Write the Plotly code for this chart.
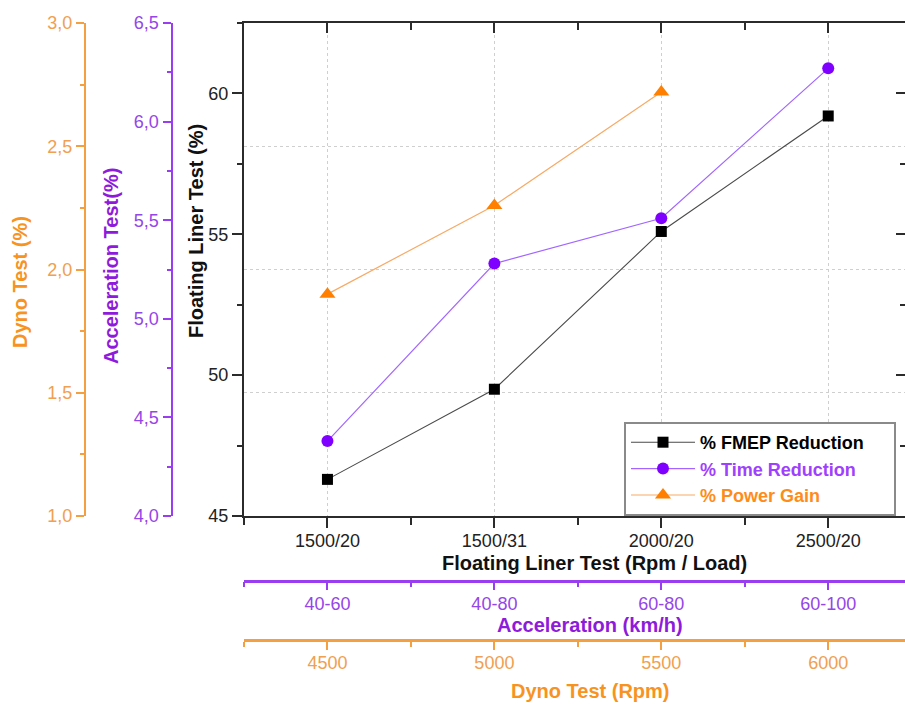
import plotly.graph_objects as go

# ---------------- data ----------------
fl_categories = ["1500/20", "1500/31", "2000/20", "2500/20"]      # Floating Liner Test (Rpm / Load)
acc_categories = ["40-60", "40-80", "60-80", "60-100"]            # Acceleration (km/h)
dyno_categories = ["4500", "5000", "5500", "6000"]                # Dyno Test (Rpm)

fmep_reduction = [46.3, 49.5, 55.1, 59.2]     # Floating Liner Test (%)
time_reduction = [4.38, 5.28, 5.51, 6.27]     # Acceleration Test (%)
power_gain = [1.90, 2.26, 2.72]               # Dyno Test (%)

fl_yticks = [45, 50, 55, 60]
fl_ytext = ["45", "50", "55", "60"]
acc_yticks = [4.0, 4.5, 5.0, 5.5, 6.0, 6.5]
acc_ytext = ["4,0", "4,5", "5,0", "5,5", "6,0", "6,5"]
dyno_yticks = [1.0, 1.5, 2.0, 2.5, 3.0]
dyno_ytext = ["1,0", "1,5", "2,0", "2,5", "3,0"]

# ---------------- style ----------------
W, H = 905, 704
FONT = "Liberation Sans, Arial, Helvetica, sans-serif"
BLACK = "#111111"
AX_BLACK = "#2b2b2b"
ORANGE = "#F7931E"
ORANGE_AX = "#F5A040"
ORANGE_TXT = "#F0A050"
PURPLE = "#8E1BDB"
PURPLE_AX = "#9A3CF0"
PURPLE_TXT = "#9446E8"
GRID = "#cfcfcf"

px_x = lambda p: p / W
px_y = lambda p: (H - p) / H

x_dom = [px_x(244), 1.0]
y_dom = [px_y(516), px_y(23)]
x_range = [-0.5, 3.46]
idx = list(range(len(fl_categories)))
minor_x = [i - 0.5 for i in range(len(fl_categories) + 1)]
PAD = "&nbsp;" * 5

fig = go.Figure()

fig.add_trace(go.Scatter(
    x=idx, y=fmep_reduction, xaxis="x", yaxis="y", mode="lines+markers",
    name="<b>% FMEP Reduction</b>" + PAD,
    line=dict(color="#4a4a4a", width=1.1),
    marker=dict(symbol="square", size=11, color="#000000"),
))
fig.add_trace(go.Scatter(
    x=idx, y=time_reduction, xaxis="x2", yaxis="y2", mode="lines+markers",
    name="<b><span style='color:#A040FF'>% Time Reduction</span></b>",
    line=dict(color="#A266FF", width=1.2),
    marker=dict(symbol="circle", size=12, color="#8000FF"),
))
fig.add_trace(go.Scatter(
    x=idx[:len(power_gain)], y=power_gain, xaxis="x3", yaxis="y3", mode="lines+markers",
    name="<b><span style='color:#FF8C1A'>% Power Gain</span></b>",
    line=dict(color="#F7AA66", width=1.2),
    marker=dict(symbol="triangle-up", size=14, color="#FF8000"),
))
# helper trace for the top / right frame axes
fig.add_trace(go.Scatter(x=[None], y=[None], xaxis="x4", yaxis="y4",
                         showlegend=False, hoverinfo="skip"))

tickfont_black = dict(family=FONT, size=18, color="#222222")
tickfont_purple = dict(family=FONT, size=18, color=PURPLE_TXT)
tickfont_orange = dict(family=FONT, size=18, color=ORANGE_TXT)

common_x = dict(domain=x_dom, range=x_range, tickmode="array", tickvals=idx,
                zeroline=False, fixedrange=True, automargin=False)

fig.update_layout(
    width=W, height=H,
    margin=dict(l=0, r=0, t=0, b=0, autoexpand=False),
    paper_bgcolor="white", plot_bgcolor="white",
    font=dict(family=FONT, size=18, color=BLACK),
    showlegend=True,
    legend=dict(
        x=px_x(624), y=px_y(422), xanchor="left", yanchor="top",
        bgcolor="white", bordercolor="#8a8a8a", borderwidth=2,
        font=dict(family=FONT, size=18, color="#000000"),
        itemwidth=64, tracegroupgap=0,
    ),
    xaxis=dict(
        **common_x, anchor="y", side="bottom", ticktext=fl_categories,
        showline=True, linecolor=AX_BLACK, linewidth=2,
        ticks="outside", ticklen=10, tickwidth=1.5, tickcolor=AX_BLACK,
        tickfont=tickfont_black, ticklabelstandoff=-3,
        showgrid=True, gridcolor=GRID, griddash="dot", gridwidth=1,
        minor=dict(tickmode="array", tickvals=minor_x, ticks="outside",
                   ticklen=7, tickwidth=1.5, tickcolor=AX_BLACK, showgrid=False),
    ),
    xaxis2=dict(
        **common_x, anchor="free", position=px_y(580.5), overlaying="x", side="bottom",
        ticktext=acc_categories,
        showline=True, linecolor=PURPLE_AX, linewidth=2.5,
        ticks="outside", ticklen=8, tickwidth=1.5, tickcolor=PURPLE_AX,
        tickfont=tickfont_purple, ticklabelstandoff=-2, showgrid=False,
        minor=dict(tickmode="array", tickvals=minor_x, ticks="outside",
                   ticklen=5, tickwidth=1.5, tickcolor=PURPLE_AX, showgrid=False),
    ),
    xaxis3=dict(
        **common_x, anchor="free", position=px_y(640), overlaying="x", side="bottom",
        ticktext=dyno_categories,
        showline=True, linecolor=ORANGE_AX, linewidth=2.5,
        ticks="outside", ticklen=8, tickwidth=1.5, tickcolor=ORANGE_AX,
        tickfont=tickfont_orange, ticklabelstandoff=-2, showgrid=False,
        minor=dict(tickmode="array", tickvals=minor_x, ticks="outside",
                   ticklen=5, tickwidth=1.5, tickcolor=ORANGE_AX, showgrid=False),
    ),
    xaxis4=dict(
        **common_x, anchor="y", overlaying="x", side="top", ticktext=["", "", "", ""],
        showticklabels=False,
        showline=True, linecolor=AX_BLACK, linewidth=2,
        ticks="inside", ticklen=10, tickwidth=1.5, tickcolor=AX_BLACK, showgrid=False,
        minor=dict(tickmode="array", tickvals=minor_x, ticks="inside",
                   ticklen=7, tickwidth=1.5, tickcolor=AX_BLACK, showgrid=False),
    ),
    yaxis=dict(
        domain=y_dom, range=[45, 62.5], anchor="x", side="left", automargin=False,
        tickmode="array", tickvals=fl_yticks, ticktext=fl_ytext,
        showline=True, linecolor=AX_BLACK, linewidth=2,
        ticks="outside", ticklen=10, tickwidth=1.5, tickcolor=AX_BLACK,
        tickfont=tickfont_black, showgrid=False, zeroline=False,
        minor=dict(dtick=2.5, tick0=45, ticks="outside", ticklen=5, tickwidth=1.5,
                   tickcolor=AX_BLACK, showgrid=False),
    ),
    yaxis2=dict(
        domain=y_dom, range=[4.0, 6.5], anchor="free", position=px_x(171.5),
        overlaying="y", side="left", automargin=False,
        tickmode="array", tickvals=acc_yticks, ticktext=acc_ytext,
        showline=True, linecolor=PURPLE_AX, linewidth=2,
        ticks="outside", ticklen=8, tickwidth=1.5, tickcolor=PURPLE_AX,
        tickfont=tickfont_purple, showgrid=False, zeroline=False,
        minor=dict(dtick=0.25, tick0=4.0, ticks="outside", ticklen=4, tickwidth=1.5,
                   tickcolor=PURPLE_AX, showgrid=False),
    ),
    yaxis3=dict(
        domain=y_dom, range=[1.0, 3.0], anchor="free", position=px_x(85),
        overlaying="y", side="left", automargin=False,
        tickmode="array", tickvals=dyno_yticks, ticktext=dyno_ytext,
        showline=True, linecolor=ORANGE_AX, linewidth=2,
        ticks="outside", ticklen=8, tickwidth=1.5, tickcolor=ORANGE_AX,
        tickfont=tickfont_orange, zeroline=False,
        showgrid=True, gridcolor=GRID, griddash="dot", gridwidth=1,
        minor=dict(dtick=0.25, tick0=1.0, ticks="outside", ticklen=4, tickwidth=1.5,
                   tickcolor=ORANGE_AX, showgrid=False),
    ),
    yaxis4=dict(
        domain=y_dom, range=[45, 62.5], anchor="x", overlaying="y", side="right",
        automargin=False,
        tickmode="array", tickvals=fl_yticks, ticktext=fl_ytext, showticklabels=False,
        showline=False, ticks="inside", ticklen=9, tickwidth=1.5, tickcolor=AX_BLACK,
        showgrid=False, zeroline=False,
        minor=dict(dtick=2.5, tick0=45, ticks="inside", ticklen=5, tickwidth=1.5,
                   tickcolor=AX_BLACK, showgrid=False),
    ),
)

# axis titles (real text annotations)
def title(text, x, y, color, angle=0):
    fig.add_annotation(text=f"<b>{text}</b>", xref="paper", yref="paper",
                       x=px_x(x), y=px_y(y), xanchor="center", yanchor="middle",
                       showarrow=False, textangle=angle,
                       font=dict(family=FONT, size=20, color=color))

title("Floating Liner Test (%)", 196, 231, BLACK, -90)
title("Acceleration Test(%)", 111, 266, PURPLE, -90)
title("Dyno Test (%)", 20, 282, ORANGE, -90)
title("Floating Liner Test (Rpm / Load)", 594, 563, BLACK)
title("Acceleration (km/h)", 590, 625, PURPLE)
title("Dyno Test (Rpm)", 590, 691, ORANGE)

fig.write_html("out.html")
